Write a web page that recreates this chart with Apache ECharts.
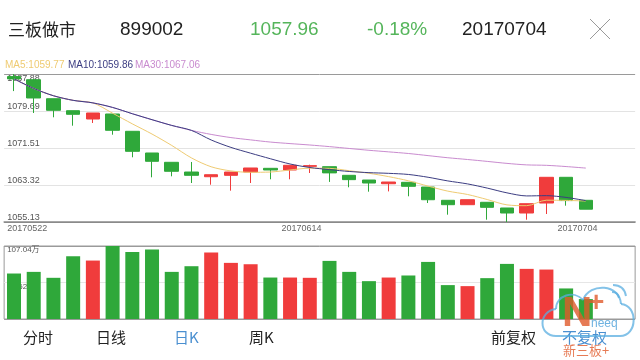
<!DOCTYPE html>
<html>
<head>
<meta charset="utf-8">
<script src="https://cdn.jsdelivr.net/npm/echarts@6/dist/echarts.min.js"></script>
<style>html,body{margin:0;padding:0;background:#fff}#c{width:640px;height:360px}</style>
</head>
<body>
<div id="c"></div>
<script>
// ---- data ----
const dates = ['20170522','20170523','20170524','20170525','20170526','20170531','20170601','20170602','20170605','20170606','20170607','20170608','20170609','20170612','20170613','20170614','20170615','20170616','20170619','20170620','20170621','20170622','20170623','20170626','20170627','20170628','20170629','20170630','20170703','20170704'];
const openP  = [1087.30,1086.62,1082.41,1079.76,1077.92,1079.03,1075.20,1070.40,1068.34,1066.19,1065.15,1065.46,1066.19,1067.01,1066.64,1067.45,1067.37,1065.46,1064.42,1063.60,1063.91,1062.87,1059.93,1058.96,1059.49,1058.23,1057.12,1059.33,1065.02,1059.93];
const closeP = [1086.80,1082.57,1079.85,1078.96,1079.25,1075.42,1070.77,1068.56,1066.35,1065.46,1065.59,1066.19,1067.08,1066.64,1067.68,1067.60,1066.00,1064.50,1063.76,1063.98,1063.03,1060.06,1058.96,1060.06,1058.38,1057.12,1059.18,1065.02,1059.87,1057.96];
const lowP   = [1084.10,1079.25,1078.30,1076.44,1077.04,1074.45,1069.45,1065.02,1065.24,1063.76,1063.38,1062.06,1063.76,1064.58,1064.58,1065.97,1064.00,1062.81,1061.84,1061.90,1060.82,1059.33,1056.75,1058.96,1055.64,1055.13,1055.64,1056.90,1058.74,1057.96];
const highP  = [1087.88,1086.80,1082.41,1079.76,1079.25,1079.03,1075.20,1070.40,1068.34,1068.41,1065.59,1066.19,1067.08,1067.01,1067.68,1067.81,1067.37,1065.46,1064.42,1063.98,1063.91,1062.87,1059.93,1060.06,1059.49,1058.23,1059.18,1065.02,1065.02,1059.93];
const ma5  = [1086.80,1084.69,1083.07,1082.05,1081.49,1079.21,1076.85,1074.59,1072.07,1069.31,1067.35,1066.43,1066.13,1066.19,1066.64,1067.04,1067.00,1066.48,1065.91,1065.17,1064.25,1063.07,1061.96,1061.22,1060.10,1058.92,1058.74,1059.95,1059.91,1059.77];
const ma10 = [1086.80,1084.69,1083.07,1082.05,1081.49,1080.48,1079.09,1077.77,1076.50,1075.40,1073.28,1071.64,1070.36,1069.13,1067.97,1067.19,1066.72,1066.31,1066.05,1065.90,1065.65,1065.03,1064.22,1063.56,1062.63,1061.58,1060.90,1060.96,1060.57,1059.86];
const ma30 = [1086.80,1084.69,1083.07,1082.05,1081.49,1080.48,1079.09,1077.77,1076.50,1075.40,1074.51,1073.81,1073.30,1072.82,1072.48,1072.17,1071.81,1071.40,1071.00,1070.65,1070.29,1069.82,1069.35,1068.96,1068.54,1068.10,1067.77,1067.67,1067.40,1067.06];
const volume = [66.7,69.1,60.4,92.0,85.7,107.04,98.3,101.8,69.1,77.4,97.4,82.3,80.3,60.8,60.8,60.4,85.2,69.1,55.5,60.8,63.8,83.7,49.7,48.2,59.9,80.8,73.5,72.5,44.8,29.2];
const priceTickLabels = ['1055.13','1063.32','1071.51','1079.69','1087.88'];
const volTickLabels = ['', '53.52万', '107.04万'];
const xLabelIdx = [0, 15, 29];
const stockName = '三板做市', stockCode = '899002', lastPrice = '1057.96', changePct = '-0.18%', lastDate = '20170704';
const tabs = ['分时','日线','日K','周K','前复权','不复权'];

// ---- chart ----
const UP = '#f03c3c', DOWN = '#2fa83a';
const FONT = '"Liberation Sans", Arial, "Noto Sans CJK SC", sans-serif';
const CJK = '"Noto Sans CJK SC", sans-serif';
const slots = dates.concat(['', '']);
const kData = dates.map((d, i) => [openP[i], closeP[i], lowP[i], highP[i]]);
const volData = volume.map((v, i) => ({ value: v, itemStyle: { color: closeP[i] >= openP[i] ? UP : DOWN } }));

const chart = echarts.init(document.getElementById('c'), null, { renderer: 'canvas' });
const txt = (x, y, text, size, color, font) => ({
  type: 'text', x: x, y: y, silent: true, z: 10,
  style: { text: text, font: size + 'px ' + (font || FONT), fill: color, align: 'left', verticalAlign: 'middle' }
});
const WM = { fill: 'none', stroke: '#5aaee0', lineWidth: 2, opacity: 0.75 };
const bz = (x1, y1, c1x, c1y, c2x, c2y, x2, y2) => ({ type: 'bezierCurve', silent: true, z: 20,
  shape: { x1: x1, y1: y1, cpx1: c1x, cpy1: c1y, cpx2: c2x, cpy2: c2y, x2: x2, y2: y2 }, style: WM });
const wmText = (x, y, text, font, color) => ({ type: 'text', x: x, y: y, z: 21, silent: true,
  style: { text: text, font: font, fill: color, opacity: 0.8, align: 'left', verticalAlign: 'middle' } });

chart.setOption({
  animation: false,
  backgroundColor: '#fff',
  grid: [
    { left: 4.14, width: 631, top: 74, height: 148 },
    { left: 4.14, width: 631, top: 246, height: 73, show: true, borderColor: '#9a9a9a', borderWidth: 1, backgroundColor: 'transparent' }
  ],
  xAxis: [
    { type: 'category', gridIndex: 0, data: slots, boundaryGap: true,
      axisLine: { show: true, lineStyle: { color: '#8a8a8a', width: 1.5 } }, axisTick: { show: false }, axisLabel: { show: false }, splitLine: { show: false } },
    { type: 'value', gridIndex: 0, min: -0.5, max: 31.5, position: 'bottom',
      axisLine: { show: false }, axisTick: { show: false }, splitLine: { show: false },
      axisLabel: { show: true, customValues: xLabelIdx.map(i => i - 0.5), alignMinLabel: 'left', margin: 2, padding: [0, 0, 0, 3],
        fontSize: 9, color: '#666', fontFamily: FONT,
        formatter: v => dates[Math.round(v + 0.5)] } },
    { type: 'category', gridIndex: 1, data: slots, boundaryGap: true,
      axisLine: { show: false }, axisTick: { show: false }, axisLabel: { show: false }, splitLine: { show: false } }
  ],
  yAxis: [
    { type: 'value', gridIndex: 0, min: 1055.13, max: 1087.88, interval: 8.1875,
      axisLine: { show: false }, axisTick: { show: false },
      axisLabel: { inside: true, margin: 3, fontSize: 9, color: '#555', fontFamily: FONT,
        verticalAlign: 'bottom', verticalAlignMaxLabel: 'top',
        formatter: (v, i) => priceTickLabels[i] },
      splitLine: { show: true, lineStyle: { color: ['#8a8a8a', '#e3e3e3', '#e3e3e3', '#e3e3e3', '#9a9a9a'], width: 1 } } },
    { type: 'value', gridIndex: 1, min: 0, max: 107.04, interval: 53.52,
      axisLine: { show: false }, axisTick: { show: false },
      axisLabel: { inside: true, margin: 3, fontSize: 8, color: '#555', fontFamily: FONT, verticalAlign: 'top',
        formatter: (v, i) => volTickLabels[i] },
      splitLine: { show: true, lineStyle: { color: ['#9a9a9a', '#e6e6e6', '#9a9a9a'] } } }
  ],
  series: [
    { type: 'candlestick', xAxisIndex: 0, yAxisIndex: 0, data: kData, barWidth: 14,
      itemStyle: { color: UP, color0: DOWN, borderColor: UP, borderColor0: DOWN, borderWidth: 1 } },
    { type: 'line', xAxisIndex: 0, yAxisIndex: 0, data: ma5, showSymbol: false, smooth: 0.3, z: 3,
      lineStyle: { color: '#efcb72', width: 1 } },
    { type: 'line', xAxisIndex: 0, yAxisIndex: 0, data: ma30, showSymbol: false, smooth: 0.3, z: 3,
      lineStyle: { color: '#c98bcf', width: 1 } },
    { type: 'line', xAxisIndex: 0, yAxisIndex: 0, data: ma10, showSymbol: false, smooth: 0.3, z: 4,
      lineStyle: { color: '#3c3d82', width: 1 } },
    { type: 'bar', xAxisIndex: 2, yAxisIndex: 1, data: volData, barWidth: 14 }
  ],
  graphic: [
    txt(8, 30, stockName, 17, '#222', CJK),
    txt(120, 30, stockCode, 19, '#222'),
    txt(250, 30, lastPrice, 19, '#55b55b'),
    txt(367, 30, changePct, 19, '#55b55b'),
    txt(462, 30, lastDate, 19, '#222'),
    { type: 'line', shape: { x1: 590, y1: 19, x2: 610, y2: 39 }, style: { stroke: '#9a9a9a', lineWidth: 1 }, silent: true },
    { type: 'line', shape: { x1: 610, y1: 19, x2: 590, y2: 39 }, style: { stroke: '#9a9a9a', lineWidth: 1 }, silent: true },
    txt(5, 65, 'MA5:' + ma5[ma5.length - 1].toFixed(2), 10, '#efcb72'),
    txt(68, 65, 'MA10:' + ma10[ma10.length - 1].toFixed(2), 10, '#3c3d82'),
    txt(135, 65, 'MA30:' + ma30[ma30.length - 1].toFixed(2), 10, '#c98bcf'),
    txt(23, 337, tabs[0], 15, '#222', CJK),
    txt(96, 337, tabs[1], 15, '#222', CJK),
    txt(174, 337, tabs[2], 15, '#4a8fd0', CJK),
    txt(249, 337, tabs[3], 15, '#222', CJK),
    txt(491, 337, tabs[4], 15, '#222', CJK),
    txt(562, 337, tabs[5], 15, '#4a8fd0', CJK),
    // watermark
    bz(556, 336, 538, 336, 538, 311, 556, 309),
    bz(556, 309, 556, 295, 574, 290, 583, 300),
    bz(583, 300, 590, 282, 620, 284, 621, 304),
    bz(621, 304, 638, 305, 638, 336, 620, 336),
    { type: 'line', silent: true, z: 20, shape: { x1: 620, y1: 336, x2: 556, y2: 336 }, style: WM },
    { type: 'bezierCurve', silent: true, z: 20, shape: { x1: 612, y1: 292, cpx1: 618, cpy1: 292, x2: 619, y2: 298 }, style: WM },
    { type: 'bezierCurve', silent: true, z: 20, shape: { x1: 613, y1: 285, cpx1: 624, cpy1: 285, x2: 626, y2: 296 }, style: WM },
    wmText(562, 314, 'N', 'bold 42px ' + FONT, '#e05a2a'),
    wmText(588, 303, '+', 'bold 28px ' + FONT, '#e05a2a'),
    wmText(591, 324, 'neeq', '12px ' + FONT, '#4a9fd8'),
    wmText(563, 350, '新三板+', '13px ' + CJK, '#e05a2a')
  ]
});
</script>
</body>
</html>
